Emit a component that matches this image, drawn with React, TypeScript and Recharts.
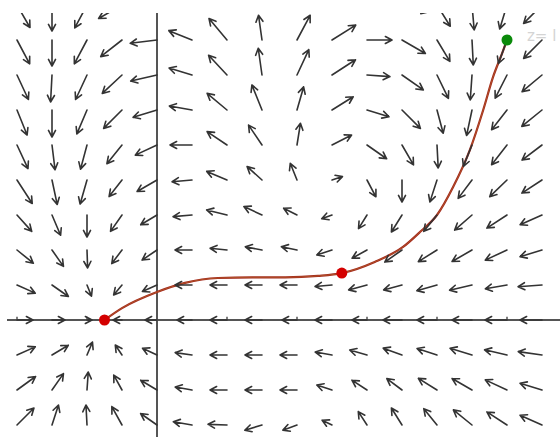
import React from "react";
import { ComposedChart, XAxis, YAxis, Scatter, Line, ReferenceLine } from "recharts";

// grid of the vector field (data units)
const xs = [-2, -1.5, -1, -0.5, 0, 0.5, 1, 1.5, 2, 2.5, 3, 3.5, 4, 4.5, 5, 5.5];
const ys = [4.5, 4, 3.5, 3, 2.5, 2, 1.5, 1, 0.5, 0, -0.5, -1, -1.5];

// direction of each arrow (degrees, counter-clockwise from +x), one row per y
const angleRows = [
  [-60, -90, -118, -150, -175, 155, 128, 95, 60, 30, 3, -15, -58, -85, -107, -135],
  [-62, -90, -118, -142, -173, 158, 130, 98, 62, 32, 0, -30, -59, -87, -110, -135],
  [-65, -93, -115, -137, -167, 163, 133, 98, 65, 33, -4, -35, -64, -94, -117, -140],
  [-68, -90, -113, -135, -163, 170, 140, 112, 74, 32, -17, -45, -75, -102, -128, -141],
  [-65, -83, -105, -129, -155, 180, 146, 124, 81, 27, -35, -60, -87, -112, -128, -143],
  [-57, -78, -106, -128, -150, -175, 157, 138, 112, 18, -62, -90, -108, -127, -136, -147],
  [-48, -67, -90, -125, -149, -175, 166, 155, 153, -160, -122, -122, -129, -139, -147, -156],
  [-39, -55, -88, -127, -146, 180, 174, 169, 168, -162, -151, -145, -148, -150, -155, -163],
  [-24, -35, -68, -130, -156, 180, 180, 180, 180, -175, -165, -165, -164, -167, -170, -176],
  [0, 0, 0, 180, 180, 180, 180, 180, 180, 180, 180, 180, 180, 180, 180, 180],
  [24, 31, 67, 124, 155, 172, 180, 180, 180, 170, 164, 160, 162, 163, 167, 172],
  [36, 55, 86, 119, 149, 170, 180, 180, 180, 162, 147, 143, 148, 150, 155, 163],
  [45, 72, 93, 119, 145, 170, 178, -163, -160, 154, 123, 122, 129, 141, 147, 156],
];

// magnitude of each arrow, one row per y
const magnitudeRows = [
  [2.6, 2.6, 2.6, 2.7, 2.7, 2.6, 2.8, 2.6, 2.8, 2.8, 2.5, 2.7, 2.5, 2.5, 2.5, 2.6],
  [2.7, 2.6, 2.7, 2.7, 2.7, 2.5, 2.8, 2.5, 2.8, 2.8, 2.5, 2.7, 2.5, 2.5, 2.5, 2.6],
  [2.7, 2.7, 2.7, 2.7, 2.7, 2.4, 2.7, 2.7, 2.8, 2.8, 2.3, 2.6, 2.6, 2.5, 2.6, 2.6],
  [2.7, 2.7, 2.6, 2.6, 2.5, 2.3, 2.6, 2.7, 2.4, 2.5, 2.3, 2.6, 2.4, 2.6, 2.5, 2.6],
  [2.6, 2.5, 2.5, 2.4, 2.4, 2.2, 2.4, 2.4, 2.2, 2.2, 2.4, 2.3, 2.3, 2.3, 2.5, 2.5],
  [2.8, 2.5, 2.5, 2.1, 2.3, 2.0, 2.2, 2.0, 1.8, 1.1, 1.9, 2.2, 2.3, 2.3, 2.4, 2.4],
  [2.2, 2.2, 2.2, 2.0, 1.9, 1.9, 2.1, 2.0, 1.5, 1.1, 1.6, 2.0, 2.1, 2.3, 2.4, 2.4],
  [2.1, 2.0, 1.8, 1.7, 1.8, 1.7, 1.7, 1.7, 1.6, 1.6, 1.7, 2.1, 2.2, 2.3, 2.4, 2.3],
  [2.0, 2.0, 1.2, 1.3, 1.6, 1.7, 1.7, 1.7, 1.7, 1.7, 1.9, 1.9, 2.1, 2.3, 2.2, 2.4],
  [1.6, 1.3, 0.5, 0.9, 1.2, 1.5, 1.7, 1.7, 1.5, 1.7, 1.5, 1.9, 2.0, 2.0, 2.2, 2.2],
  [2.0, 1.9, 1.4, 1.2, 1.6, 1.7, 1.7, 1.7, 1.7, 1.7, 1.8, 2.0, 2.1, 2.3, 2.3, 2.4],
  [2.3, 2.0, 1.8, 1.7, 1.9, 1.7, 1.7, 1.7, 1.7, 1.6, 1.8, 1.9, 2.2, 2.3, 2.4, 2.3],
  [2.4, 2.1, 2.0, 2.1, 2.0, 1.9, 1.9, 1.8, 1.5, 1.1, 1.6, 2.0, 2.1, 2.4, 2.4, 2.4],
];

// the drawn curve
const curveX = [-0.75, -0.5, 0, 0.4, 0.87, 1.36, 1.83, 2.3, 2.64, 3.11, 3.51, 3.76, 4.0, 4.23, 4.47, 4.66, 4.8, 4.93, 5.0];
const curveY = [0, 0.17, 0.4, 0.53, 0.6, 0.61, 0.61, 0.63, 0.67, 0.83, 1.04, 1.26, 1.5, 1.9, 2.43, 3.0, 3.47, 3.81, 4.0];

// marked points
const redPointsX = [-0.75, 2.64];
const redPointsY = [0, 0.67];
const greenPointX = [5.0];
const greenPointY = [4.0];

const tickValues = [-2, -1, 1, 2, 3, 4, 5];

const arrowData = ys.flatMap((y, r) =>
  xs.map((x, c) => ({ x, y, angle: angleRows[r][c], mag: magnitudeRows[r][c] }))
);
const curveData = curveX.map((x, i) => ({ x, y: curveY[i] }));
const redData = redPointsX.map((x, i) => ({ x, y: redPointsY[i] }));
const greenData = greenPointX.map((x, i) => ({ x, y: greenPointY[i] }));

const ARROW_PX = 10;
const HEAD = 7.5;
const HEAD_ANGLE = (28 * Math.PI) / 180;

const Arrow = (props: any) => {
  const { cx, cy, payload } = props;
  if (cx == null || cy == null) return null;
  const a = (payload.angle * Math.PI) / 180;
  const L = payload.mag * ARROW_PX;
  const hx = cx + L * Math.cos(a);
  const hy = cy - L * Math.sin(a);
  const back = Math.atan2(cy - hy, cx - hx);
  const h1x = hx + HEAD * Math.cos(back + HEAD_ANGLE);
  const h1y = hy + HEAD * Math.sin(back + HEAD_ANGLE);
  const h2x = hx + HEAD * Math.cos(back - HEAD_ANGLE);
  const h2y = hy + HEAD * Math.sin(back - HEAD_ANGLE);
  return (
    <path
      d={`M${cx},${cy}L${hx},${hy}M${h1x},${h1y}L${hx},${hy}L${h2x},${h2y}`}
      stroke="#333"
      strokeWidth={1.6}
      fill="none"
      strokeLinecap="round"
      strokeLinejoin="round"
    />
  );
};

const Dot = (color: string, r: number) => (props: any) => {
  const { cx, cy } = props;
  if (cx == null || cy == null) return null;
  return <circle cx={cx} cy={cy} r={r} fill={color} />;
};

export default function App() {
  return (
    <div style={{ position: "absolute", left: 0, top: 0, width: 560, height: 437, background: "#fff" }}>
      <ComposedChart width={560} height={437} margin={{ top: 13, right: 0, bottom: 0, left: 7 }}>
        <XAxis type="number" dataKey="x" domain={[-150 / 70, 403 / 70]} allowDataOverflow hide />
        <YAxis type="number" dataKey="y" domain={[-117 / 70, 307 / 70]} allowDataOverflow hide />
        <ReferenceLine x={0} stroke="#555" strokeWidth={2} />
        <ReferenceLine y={0} stroke="#555" strokeWidth={2} />
        {tickValues.map((t) => (
          <ReferenceLine
            key={t}
            segment={[{ x: t, y: 0 }, { x: t, y: 0.045 }]}
            stroke="#555"
            strokeWidth={1.5}
          />
        ))}
        <Scatter data={arrowData} shape={Arrow} isAnimationActive={false} />
        <Line
          data={curveData}
          dataKey="y"
          type="monotone"
          stroke="#a3261c"
          strokeWidth={2.2}
          dot={false}
          activeDot={false}
          isAnimationActive={false}
        />
        <Line
          data={curveData}
          dataKey="y"
          type="monotone"
          stroke="#c8b040"
          strokeOpacity={0.45}
          strokeWidth={0.7}
          dot={false}
          activeDot={false}
          isAnimationActive={false}
        />
        <Scatter data={redData} shape={Dot("#d40000", 5.5)} isAnimationActive={false} />
        <Scatter data={greenData} shape={Dot("#0a8a0a", 5.5)} isAnimationActive={false} />
      </ComposedChart>
      <div
        style={{
          position: "absolute",
          left: 527,
          top: 27,
          color: "#d4d4d4",
          fontFamily: "'DejaVu Sans', sans-serif",
          fontSize: 15,
          whiteSpace: "nowrap",
        }}
      >
        z= l
      </div>
    </div>
  );
}
